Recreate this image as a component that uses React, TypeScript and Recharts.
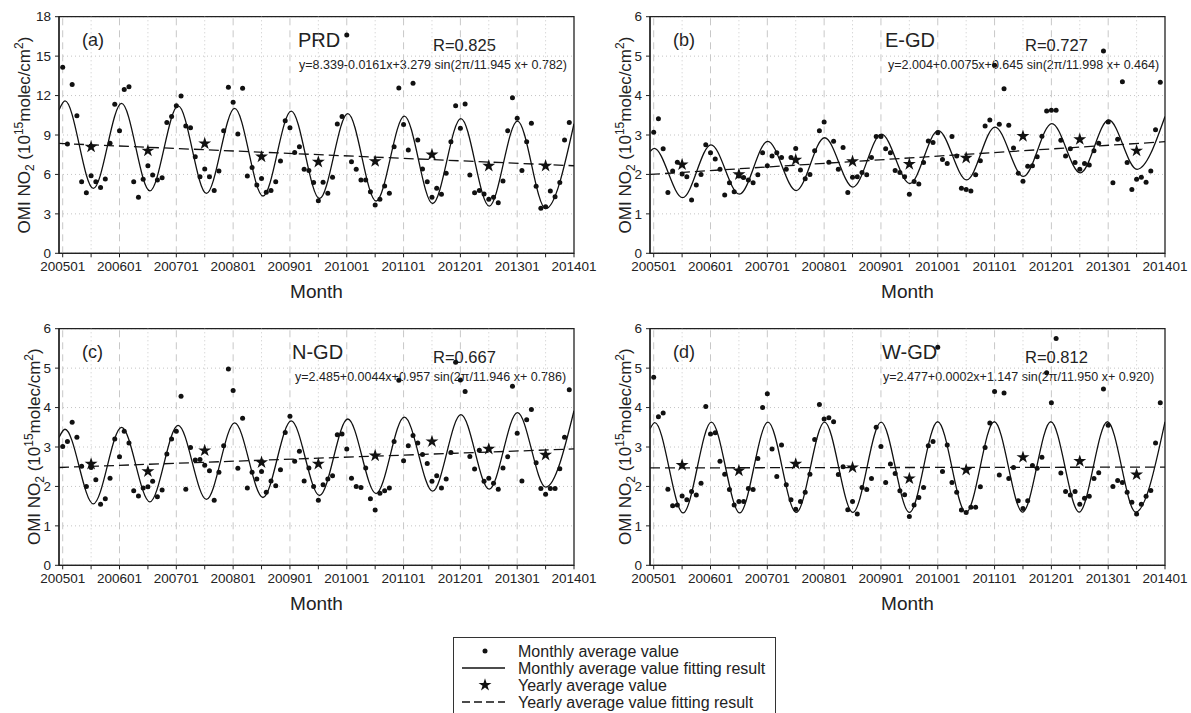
import React from "react";
import {
  ComposedChart, XAxis, YAxis, CartesianGrid, Line, Scatter, ReferenceLine, ReferenceArea, Symbols,
} from "recharts";

const FONT = "'Liberation Sans', Arial, Helvetica, sans-serif";

// ---------- data ----------
const xLabels = ["200501", "200601", "200701", "200801", "200901", "201001", "201101", "201201", "201301", "201401"];
const tickMonths = [1, 7, 13, 19, 25, 31, 37, 43, 49, 55, 61, 67, 73, 79, 85, 91, 97, 103, 109];
const yearLines = [1, 13, 25, 37, 49, 61, 73, 85, 97];
const halfYearLines = [7, 19, 31, 43, 55, 67, 79, 91, 103];
const starMonths = [7, 19, 31, 43, 55, 67, 79, 91, 103];
const yTicksA = [0, 3, 6, 9, 12, 15, 18];
const yTicksB = [0, 1, 2, 3, 4, 5, 6];

const monthlyA = [
  14.15, 8.32, 12.85, 10.47, 5.45, 4.6, 5.9, 5.45, 5.0, 5.65, 8.37, 11.33,
  9.33, 12.47, 12.68, 5.45, 4.26, 5.63, 6.67, 5.96, 5.58, 5.75, 9.96, 10.4,
  11.23, 11.97, 9.69, 9.56, 7.35, 5.83, 6.41, 5.83, 4.77, 6.26, 9.33, 12.63,
  11.49, 9.08, 12.55, 5.88, 6.52, 5.2, 5.7, 4.64, 4.77, 5.45, 7.02, 10.09,
  9.56, 7.66, 8.11, 6.39, 6.29, 5.38, 4.0, 5.4, 4.56, 5.78, 9.84, 10.4,
  16.6, 6.97, 6.39, 5.58, 5.58, 4.69, 3.68, 4.11, 5.12, 4.56, 8.11, 12.58,
  9.79, 7.86, 12.93, 8.62, 6.41, 5.45, 4.26, 4.94, 4.49, 6.09, 8.49, 11.23,
  9.51, 11.36, 5.96, 4.61, 4.77, 4.51, 4.11, 4.26, 3.85, 5.5, 9.33, 11.84,
  10.27, 6.29, 8.49, 9.89, 5.1, 3.42, 3.55, 4.74, 4.3, 5.38, 8.62, 9.96,
];
const monthlyB = [
  3.07, 3.41, 2.65, 1.54, 2.09, 2.31, 2.01, 1.94, 1.35, 1.73, 2.0, 2.75,
  2.55, 2.39, 2.13, 1.48, 1.79, 1.56, 1.96, 1.92, 1.86, 1.79, 1.99, 2.55,
  2.22, 2.47, 2.55, 2.43, 2.13, 2.43, 2.66, 2.11, 1.89, 2.0, 2.6, 3.11,
  3.33, 2.31, 2.84, 2.13, 2.68, 1.54, 1.93, 1.94, 2.05, 1.99, 2.43, 2.96,
  2.96, 2.65, 2.55, 2.1, 2.05, 1.94, 1.5, 1.82, 1.76, 2.3, 2.85, 2.81,
  3.06, 2.38, 2.28, 2.96, 2.47, 1.65, 1.62, 1.58, 1.99, 2.35, 3.23, 3.38,
  4.77, 3.27, 4.17, 3.25, 2.67, 2.03, 1.83, 2.21, 2.22, 2.45, 2.97, 3.61,
  3.63, 3.63, 2.87, 2.47, 2.65, 2.3, 2.13, 2.28, 2.24, 2.6, 2.79, 5.13,
  3.33, 1.79, 2.89, 4.35, 2.3, 1.62, 1.88, 1.93, 1.8, 2.09, 3.13, 4.34,
];
const monthlyC = [
  3.01, 3.14, 3.63, 3.25, 2.51, 2.0, 2.48, 2.17, 1.55, 1.69, 2.21, 3.2,
  2.75, 3.4, 3.1, 1.89, 1.76, 1.96, 1.99, 2.13, 1.74, 1.91, 2.82, 3.2,
  3.4, 4.29, 1.93, 2.99, 2.67, 2.68, 2.54, 2.4, 1.65, 2.36, 3.03, 4.98,
  4.43, 2.46, 3.73, 1.96, 2.36, 2.19, 2.38, 1.85, 2.14, 2.02, 2.42, 3.37,
  3.78, 2.64, 2.89, 2.14, 2.47, 2.0, 1.65, 2.04, 2.19, 2.27, 3.31, 3.33,
  2.95, 2.21, 2.0, 1.97, 2.47, 1.69, 1.4, 1.83, 1.89, 1.96, 3.14, 4.69,
  2.65, 3.03, 3.29, 3.1, 2.81, 2.58, 2.13, 2.27, 1.96, 2.19, 2.86, 5.15,
  4.7, 4.41, 2.76, 2.44, 2.92, 2.13, 2.21, 2.08, 1.93, 2.47, 2.75, 4.54,
  3.35, 2.14, 3.69, 3.95, 2.6, 1.95, 1.8, 1.95, 1.95, 2.45, 3.25, 4.45,
];
const monthlyD = [
  4.77, 3.77, 3.86, 1.93, 1.51, 1.53, 1.76, 1.66, 1.87, 1.78, 2.08, 4.03,
  3.33, 3.36, 2.64, 2.31, 1.92, 1.53, 1.62, 1.62, 1.95, 1.92, 2.71, 4.0,
  4.35, 2.95, 2.25, 3.05, 2.04, 1.66, 1.42, 1.62, 1.85, 2.31, 3.19, 4.08,
  3.71, 3.74, 3.64, 2.3, 2.5, 1.41, 1.62, 1.3, 1.97, 1.92, 2.2, 3.5,
  3.01, 2.1, 2.57, 2.33, 1.89, 1.79, 1.24, 1.53, 1.72, 1.97, 3.03, 3.14,
  5.53, 2.38, 3.05, 2.1, 1.85, 1.4, 1.34, 1.47, 1.47, 1.99, 2.99, 3.61,
  4.41, 2.29, 4.37, 2.2, 2.48, 1.64, 1.44, 1.64, 2.53, 2.46, 2.74, 4.88,
  4.12, 5.75, 2.34, 1.87, 1.78, 1.87, 1.55, 1.7, 1.75, 2.2, 2.35, 4.47,
  3.55, 2.0, 2.15, 2.1, 1.85, 1.6, 1.3, 1.55, 1.75, 1.9, 3.1, 4.12,
];

const yearlyA = [8.1, 7.8, 8.35, 7.35, 6.95, 7.0, 7.5, 6.65, 6.65];
const yearlyB = [2.25, 2.0, 2.37, 2.33, 2.26, 2.42, 2.97, 2.89, 2.6];
const yearlyC = [2.57, 2.38, 2.91, 2.61, 2.57, 2.78, 3.14, 2.95, 2.8];
const yearlyD = [2.54, 2.4, 2.57, 2.48, 2.2, 2.42, 2.74, 2.64, 2.3];

// fitted curve: start, alternating peaks/troughs, end
const fitA = [
  { x: 0.22, y: 10.9 }, { x: 1.5, y: 11.59 }, { x: 7.47, y: 4.94 }, { x: 13.44, y: 11.4 }, { x: 19.42, y: 4.75 },
  { x: 25.39, y: 11.21 }, { x: 31.36, y: 4.56 }, { x: 37.33, y: 11.02 }, { x: 43.31, y: 4.36 }, { x: 49.28, y: 10.82 },
  { x: 55.25, y: 4.17 }, { x: 61.22, y: 10.63 }, { x: 67.2, y: 3.98 }, { x: 73.17, y: 10.44 }, { x: 79.14, y: 3.79 },
  { x: 85.11, y: 10.25 }, { x: 91.09, y: 3.59 }, { x: 97.06, y: 10.06 }, { x: 103.03, y: 3.4 }, { x: 109, y: 9.86 },
];
const fitB = [
  { x: 0.22, y: 2.58 }, { x: 1.1, y: 2.66 }, { x: 7.1, y: 1.41 }, { x: 13.1, y: 2.75 }, { x: 19.1, y: 1.5 },
  { x: 25.1, y: 2.84 }, { x: 31.1, y: 1.59 }, { x: 37.1, y: 2.93 }, { x: 43.1, y: 1.68 }, { x: 49.1, y: 3.02 },
  { x: 55.1, y: 1.77 }, { x: 61.1, y: 3.11 }, { x: 67.1, y: 1.86 }, { x: 73.1, y: 3.2 }, { x: 79.1, y: 1.95 },
  { x: 85.1, y: 3.29 }, { x: 91.1, y: 2.04 }, { x: 97.1, y: 3.38 }, { x: 103.1, y: 2.13 }, { x: 109, y: 3.47 },
];
const fitC = [
  { x: 0.22, y: 3.24 }, { x: 1.49, y: 3.45 }, { x: 7.46, y: 1.56 }, { x: 13.44, y: 3.5 }, { x: 19.41, y: 1.61 },
  { x: 25.38, y: 3.55 }, { x: 31.36, y: 1.67 }, { x: 37.33, y: 3.61 }, { x: 43.3, y: 1.72 }, { x: 49.27, y: 3.66 },
  { x: 55.25, y: 1.77 }, { x: 61.22, y: 3.71 }, { x: 67.19, y: 1.82 }, { x: 73.17, y: 3.76 }, { x: 79.14, y: 1.88 },
  { x: 85.11, y: 3.82 }, { x: 91.08, y: 1.93 }, { x: 97.06, y: 3.87 }, { x: 103.03, y: 1.98 }, { x: 109, y: 3.92 },
];
const fitD = [
  { x: 0.22, y: 3.46 }, { x: 1.24, y: 3.62 }, { x: 7.22, y: 1.33 }, { x: 13.19, y: 3.63 }, { x: 19.17, y: 1.33 },
  { x: 25.14, y: 3.63 }, { x: 31.12, y: 1.34 }, { x: 37.09, y: 3.63 }, { x: 43.07, y: 1.34 }, { x: 49.04, y: 3.63 },
  { x: 55.02, y: 1.34 }, { x: 60.99, y: 3.64 }, { x: 66.97, y: 1.34 }, { x: 72.94, y: 3.64 }, { x: 78.92, y: 1.35 },
  { x: 84.89, y: 3.64 }, { x: 90.87, y: 1.35 }, { x: 96.84, y: 3.64 }, { x: 102.82, y: 1.35 }, { x: 109, y: 3.64 },
];
const trendA = [{ x: 0.22, y: 8.36 }, { x: 109, y: 6.66 }];
const trendB = [{ x: 0.22, y: 2.0 }, { x: 109, y: 2.83 }];
const trendC = [{ x: 0.22, y: 2.48 }, { x: 109, y: 2.95 }];
const trendD = [{ x: 0.22, y: 2.47 }, { x: 109, y: 2.49 }];

const toPoints = (vals: number[]) => vals.map((v, i) => ({ x: i + 1, y: v }));
const toStars = (vals: number[]) => vals.map((v, i) => ({ x: starMonths[i], y: v }));

// ---------- layout ----------
const X_MIN = 0.22;
const X_MAX = 109;
const CW = 600;
const CH = 310;

type PanelCfg = {
  tag: string; name: string; r: string; eq: string;
  ox: number; oy: number; yMax: number; yTicks: number[];
  monthly: number[]; yearly: number[]; fit: { x: number; y: number }[]; trend: { x: number; y: number }[];
  labelX: number; nameX: number; rX: number; eqX: number;
};

const panels: PanelCfg[] = [
  { tag: "(a)", name: "PRD", r: "R=0.825", eq: "y=8.339-0.0161x+3.279 sin(2\u03c0/11.945 x+ 0.782)",
    ox: 0, oy: 0, yMax: 18, yTicks: yTicksA, monthly: monthlyA, yearly: yearlyA, fit: fitA, trend: trendA,
    labelX: 23.5, nameX: 298, rX: 433, eqX: 299 },
  { tag: "(b)", name: "E-GD", r: "R=0.727", eq: "y=2.004+0.0075x+0.645 sin(2\u03c0/11.998 x+ 0.464)",
    ox: 591, oy: 0, yMax: 6, yTicks: yTicksB, monthly: monthlyB, yearly: yearlyB, fit: fitB, trend: trendB,
    labelX: 34, nameX: 294, rX: 434, eqX: 297 },
  { tag: "(c)", name: "N-GD", r: "R=0.667", eq: "y=2.485+0.0044x+0.957 sin(2\u03c0/11.946 x+ 0.786)",
    ox: 0, oy: 311.7, yMax: 6, yTicks: yTicksB, monthly: monthlyC, yearly: yearlyC, fit: fitC, trend: trendC,
    labelX: 34, nameX: 292, rX: 433, eqX: 295 },
  { tag: "(d)", name: "W-GD", r: "R=0.812", eq: "y=2.477+0.0002x+1.147 sin(2\u03c0/11.950 x+ 0.920)",
    ox: 591, oy: 311.7, yMax: 6, yTicks: yTicksB, monthly: monthlyD, yearly: yearlyD, fit: fitD, trend: trendD,
    labelX: 34, nameX: 291, rX: 434, eqX: 292 },
];

const fmtX = (v: number) => ((v - 1) % 12 === 0 ? xLabels[(v - 1) / 12] : "");

const Dot = (props: any) => {
  const { cx, cy } = props;
  if (cx == null || cy == null) return <g />;
  return <circle cx={cx} cy={cy} r={2.5} fill="#111" />;
};
const Star = (props: any) => {
  const { cx, cy } = props;
  if (cx == null || cy == null) return <g />;
  return <Symbols type="star" cx={cx} cy={cy} size={52} fill="#111" />;
};

const YLabel = ({ x, y }: { x: number; y: number }) => (
  <text transform={`rotate(-90 ${x} ${y})`} x={x} y={y + 6} textAnchor="middle"
    fontSize={17} fill="#222" fontFamily={FONT}>
    OMI NO<tspan fontSize={12} dy={4}>2</tspan>
    <tspan dy={-4}>{"  (10"}</tspan>
    <tspan fontSize={12} dy={-7}>15</tspan>
    <tspan dy={7}>molec/cm</tspan>
    <tspan fontSize={12} dy={-7}>2</tspan>
    <tspan dy={7}>)</tspan>
  </text>
);

const Panel = ({ p }: { p: PanelCfg }) => (
  <ComposedChart
    width={CW}
    height={CH}
    margin={{ top: 16.7, right: 26, bottom: 9.7, left: 9 }}
    style={{ position: "absolute", left: p.ox, top: p.oy }}
  >
    <CartesianGrid vertical={false} stroke="#c4c4c4" strokeDasharray="1 3" />
    <XAxis dataKey="x" type="number" domain={[X_MIN, X_MAX]} ticks={tickMonths} tickFormatter={fmtX}
      interval={0} allowDataOverflow height={47} tickSize={4} tickMargin={4}
      tick={{ fontSize: 13.5, fill: "#222", fontFamily: FONT }}
      tickLine={{ stroke: "#222" }} axisLine={{ stroke: "#222", strokeWidth: 1.3 }} />
    <YAxis dataKey="y" type="number" domain={[0, p.yMax]} ticks={p.yTicks} interval={0} allowDataOverflow
      width={50} tickSize={4} tickMargin={4}
      tick={{ fontSize: 13.5, fill: "#222", fontFamily: FONT }}
      tickLine={{ stroke: "#222" }} axisLine={{ stroke: "#222", strokeWidth: 1.3 }} />
    {yearLines.map((m) => (
      <ReferenceLine key={"y" + m} x={m} stroke="#c8c8c8" strokeDasharray="7 5" strokeWidth={1} />
    ))}
    {halfYearLines.map((m) => (
      <ReferenceLine key={"h" + m} x={m} stroke="#c8c8c8" strokeDasharray="1 3" strokeWidth={1} />
    ))}
    <ReferenceArea x1={X_MIN} x2={X_MAX} y1={0} y2={p.yMax} fill="none" stroke="#222" strokeWidth={1.3} />
    <Line data={p.fit} dataKey="y" type="monotone" stroke="#111" strokeWidth={1.3} dot={false}
      activeDot={false} isAnimationActive={false} />
    <Line data={p.trend} dataKey="y" type="linear" stroke="#111" strokeWidth={1.3} strokeDasharray="10 5"
      dot={false} activeDot={false} isAnimationActive={false} />
    <Scatter data={toPoints(p.monthly)} dataKey="y" shape={Dot} isAnimationActive={false} />
    <Scatter data={toStars(p.yearly)} dataKey="y" shape={Star} isAnimationActive={false} />
  </ComposedChart>
);

const legendRows = [
  "Monthly average value",
  "Monthly average value fitting result",
  "Yearly average value",
  "Yearly average value fitting result",
];

export default function App() {
  const legendTop = 651;
  const rowGap = 17;
  return (
    <div style={{ position: "absolute", left: 0, top: 0, width: 1191, height: 713, background: "#fff", overflow: "hidden", fontFamily: FONT }}>
      <svg width={1191} height={713} style={{ position: "absolute", left: 0, top: 0 }}>
        {panels.map((p) => (
          <g key={p.tag}>
            <YLabel x={p.ox + p.labelX} y={p.oy + 135} />
            <text x={p.ox + 316.5} y={p.oy + 298} textAnchor="middle" fontSize={19} fill="#222" fontFamily={FONT}>Month</text>
            <text x={p.ox + 82} y={p.oy + 46} fontSize={18} fill="#222" fontFamily={FONT}>{p.tag}</text>
            <text x={p.ox + p.nameX} y={p.oy + 47} fontSize={20} fill="#222" fontFamily={FONT}>{p.name}</text>
            <text x={p.ox + p.rX} y={p.oy + 51} fontSize={16.5} fill="#222" fontFamily={FONT}>{p.r}</text>
            <text x={p.ox + p.eqX} y={p.oy + 69} fontSize={12.5} fill="#222" fontFamily={FONT}>{p.eq}</text>
          </g>
        ))}
        <rect x={453.5} y={637.5} width={322} height={90} fill="none" stroke="#333" strokeWidth={1} />
        {legendRows.map((t, i) => (
          <text key={t} x={518} y={legendTop + i * rowGap + 5.5} fontSize={16} fill="#222" fontFamily={FONT}>{t}</text>
        ))}
        <circle cx={485} cy={legendTop} r={2.5} fill="#111" />
        <line x1={462} x2={505} y1={legendTop + rowGap} y2={legendTop + rowGap} stroke="#111" strokeWidth={1.3} />
        <Symbols type="star" cx={485} cy={legendTop + 2 * rowGap} size={52} fill="#111" />
        <line x1={462} x2={505} y1={legendTop + 3 * rowGap} y2={legendTop + 3 * rowGap} stroke="#111" strokeWidth={1.3} strokeDasharray="8 4" />
      </svg>
      {panels.map((p) => (
        <Panel key={p.tag} p={p} />
      ))}
    </div>
  );
}
